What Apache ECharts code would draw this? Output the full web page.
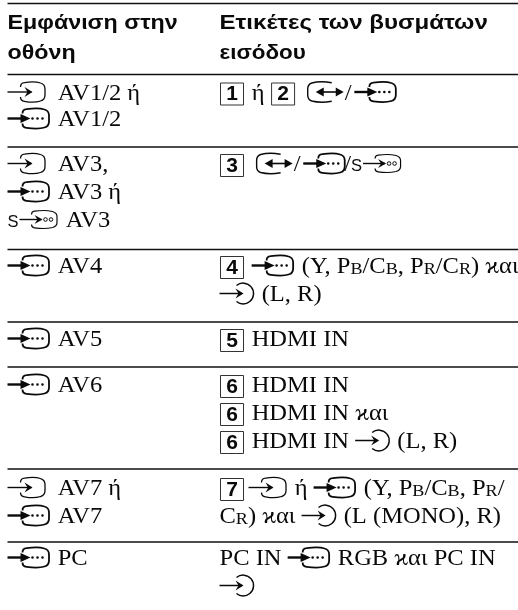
<!DOCTYPE html>
<html><head><meta charset="utf-8">
<style>html,body{margin:0;padding:0;background:#fff}#c{width:518px;height:610px}#c canvas{filter:blur(0.4px)}</style>
<script src="https://cdn.jsdelivr.net/npm/echarts@6/dist/echarts.min.js"></script>
</head><body><div id="c"></div>
<script>
// ---- table content ----
const headerDisplay = ["Εμφάνιση στην", "οθόνη"];
const headerLabels = ["Ετικέτες των βυσμάτων", "εισόδου"];
const displayLines = [
  "<audio> AV1/2 ή", "<video> AV1/2",
  "<audio> AV3,", "<video> AV3 ή", "<svideo> AV3",
  "<video> AV4",
  "<video> AV5",
  "<video> AV6",
  "<audio> AV7 ή", "<video> AV7",
  "<video> PC"
];
const labelLines = [
  "<b1> ή <b2> <avout><sl><video>",
  "<b3> <avout><sl><videoT>/<svideo>",
  "<b4> <video> (Y, P<sm:B>/C<sm:B>, P<sm:R>/C<sm:R>) ϰαι", "<circle> (L, R)",
  "<b5> HDMI IN",
  "<b6> HDMI IN", "<b6> HDMI IN ϰαι", "<b6> HDMI IN <circle> (L, R)",
  "<b7><audioT> ή <video> (Y, P<sm:B>/C<sm:B>, P<sm:R>/", "C<sm:R>) ϰαι <circle> (L (MONO), R)",
  "PC IN <video> RGB ϰαι PC IN", "<circle>"
];

// ---- layout ----
const W = 518, H = 610;
const colX = [7.5, 219.5];
const ruleY = [3.5, 74.5, 147, 249.5, 322, 367, 469, 542];
const headerY = [30.5, 60];
const headerStretch = [1.13, 1.13, 1.17, 1.09];
const displayY = [101.5, 128, 173, 201, 229, 275, 348, 394, 497, 525, 567];
const labelY = [101.5, 173, 275, 303, 348, 394, 422, 450, 497, 525, 567, 595];
const SERIF = '"Liberation Serif","Times New Roman",serif';
const SANS = '"Liberation Sans",Arial,sans-serif';
const BODY = 22.5, BODY_X = 1.09, HEAD = 20.6, INK = '#0a0a0a';

const dot = (x, y, r) => `M${x - r} ${y}a${r} ${r} 0 1 0 ${2 * r} 0a${r} ${r} 0 1 0 ${-2 * r} 0Z`;
const videoParts = [
  { d: 'M0 0L16 0', lw: 2.4 },
  { d: 'M13 -4.5L23 0L13 4.5Z', fill: true },
  { d: 'M15 -5C15 -8 16 -9 19 -9.3C26 -10.3 33 -10.3 37 -9C40.5 -8 41.5 -6 41.5 -3L41.5 3C41.5 6 40.5 8 37 9C33 10.3 26 10.3 19 9.3C16 9 15 8 15 5', lw: 1.8 },
  { d: dot(25, 0, 1.3) + dot(30, 0, 1.3) + dot(35, 0, 1.3), fill: true }
];
const audioParts = [
  { d: 'M0 0L24 0', lw: 1.4 },
  { d: 'M17 -5L25 0L17 5L20 0Z', fill: true },
  { d: 'M13 -5C13 -8 14 -9 17 -9.3C22 -10.3 29 -10.3 33 -9C36.5 -8 37.5 -6 37.5 -3L37.5 3C37.5 6 36.5 8 33 9C29 10.3 22 10.3 17 9.3C14 9 13 8 13 5', lw: 1.3 }
];
const ICONS = {
  video: { adv: 44, parts: videoParts },
  videoT: { adv: 41, parts: videoParts },
  audio: { adv: 44, parts: audioParts },
  audioT: { adv: 43, dx: 3, parts: audioParts },
  circle: { adv: 36, parts: [
    { d: 'M0 0L22 0', lw: 1.5 },
    { d: 'M16 -5L24 0L16 5L19 0Z', fill: true },
    { d: 'M17 -8A10.4 10.4 0 1 1 17 8', lw: 1.5 }
  ] },
  avout: { adv: 41, dx: 5, parts: [
    { d: 'M24 -9.3C18 -10.3 9 -10.3 4 -9C1 -8 0 -6 0 -3L0 3C0 6 1 8 4 9C9 10.3 18 10.3 24 9.3', lw: 1.4 },
    { d: 'M11 0L32 0', lw: 1.6 },
    { d: 'M16 -4.5L8 0L16 4.5Z', fill: true },
    { d: 'M28 -4.5L36 0L28 4.5Z', fill: true }
  ] },
  svideo: { adv: 52, label: 'S', parts: [
    { d: 'M12 0L34 0', lw: 1.4 },
    { d: 'M27 -4.5L35 0L27 4.5L30 0Z', fill: true },
    { d: 'M24 -5C24 -7 25 -8 27 -8.3C33 -9.2 40 -9.2 45 -8C48.5 -7 49.5 -5 49.5 -3L49.5 3C49.5 5 48.5 7 45 8C40 9.2 33 9.2 27 8.3C25 8 24 7 24 5', lw: 1.2 },
    { d: dot(38, 0, 1.8) + dot(43.5, 0, 1.8), lw: 1 }
  ] }
};

const ctx = document.createElement('canvas').getContext('2d');
const measure = (t, font) => { ctx.font = font; return ctx.measureText(t).width; };
const font = (fam, size, bold) => `${bold ? 'bold ' : ''}${size}px ${fam}`;
function textEl(t, x, base, size, fam, bold, sx) {
  const k = fam === SERIF ? 0.3375 : 0.3465;
  return { type: 'text', x: x, y: base - k * size, scaleX: sx || 1, scaleY: 1,
    style: { text: t, x: 0, y: 0, font: font(fam, size, bold), fill: INK, align: 'left', verticalAlign: 'middle' }, silent: true };
}
function iconEl(name, x, base) {
  const ic = ICONS[name];
  const kids = ic.parts.map(p => ({ type: 'path', shape: { pathData: p.d },
    style: p.fill ? { fill: INK, stroke: null } : { fill: 'none', stroke: INK, lineWidth: p.lw, lineCap: 'butt' } }));
  return { type: 'group', x: x + (ic.dx || 0), y: base - 9.5, children: kids, silent: true };
}
function layoutLine(str, x, base) {
  const out = [];
  const run = (s, size) => {
    out.push(textEl(s, x, base, size, SERIF, false, BODY_X));
    x += measure(s, font(SERIF, size)) * BODY_X;
  };
  str.split(/(<[^>]+>)/).filter(s => s.length).forEach(tok => {
    const m = tok.match(/^<(.+)>$/);
    if (!m) run(tok, BODY);
    else if (m[1].startsWith('sm:')) run(m[1].slice(3), BODY * 0.74);
    else if (m[1] === 'sl') { x += 1; run('/', BODY); x += 2.8; }
    else if (/^b\d$/.test(m[1])) {
      out.push({ type: 'rect', shape: { x: x + 1, y: base - 18.5, width: 23, height: 22 },
        style: { fill: 'none', stroke: '#333', lineWidth: 1 }, silent: true });
      const d = m[1].slice(1), dw = measure(d, font(SANS, 21, true));
      out.push(textEl(d, x + 12.5 - dw / 2, base, 21, SANS, true));
      x += 26;
    } else {
      const ic = ICONS[m[1]];
      if (ic.label) out.push(textEl(ic.label, x, base - 1, 16.5, SANS));
      out.push(iconEl(m[1], x, base));
      x += ic.adv;
    }
  });
  return out;
}

// row descriptors reference the arrays above
const items = [];
headerDisplay.forEach((t, i) => items.push({ kind: 'head', t, col: 0, y: headerY[i], sx: headerStretch[i] }));
headerLabels.forEach((t, i) => items.push({ kind: 'head', t, col: 1, y: headerY[i], sx: headerStretch[i + 2] }));
displayLines.forEach((t, i) => items.push({ kind: 'line', t, col: 0, y: displayY[i] }));
labelLines.forEach((t, i) => items.push({ kind: 'line', t, col: 1, y: labelY[i] }));

const chart = echarts.init(document.getElementById('c'), null, { renderer: 'canvas' });
chart.setOption({
  animation: false,
  backgroundColor: '#fff',
  grid: { left: 0, right: 0, top: 0, bottom: 0 },
  xAxis: { type: 'value', min: 0, max: W, show: false },
  yAxis: { type: 'value', min: 0, max: H, inverse: true, show: false },
  series: [
    { type: 'custom', coordinateSystem: 'cartesian2d', silent: true, clip: false,
      data: ruleY.map(y => [colX[0], y]),
      renderItem: (p, api) => {
        const a = api.coord([api.value(0), api.value(1)]);
        return { type: 'line', shape: { x1: a[0], y1: a[1], x2: W, y2: a[1] },
          style: { stroke: '#111', lineWidth: 1.3 }, silent: true };
      } },
    { type: 'custom', coordinateSystem: 'cartesian2d', silent: true, clip: false,
      data: items.map(it => [colX[it.col], it.y]),
      renderItem: (p, api) => {
        const it = items[p.dataIndex];
        const a = api.coord([api.value(0), api.value(1)]);
        if (it.kind === 'head') return textEl(it.t, a[0], a[1], HEAD, SANS, true, it.sx);
        return { type: 'group', children: layoutLine(it.t, a[0], a[1]), silent: true };
      } }
  ]
});
</script></body></html>
